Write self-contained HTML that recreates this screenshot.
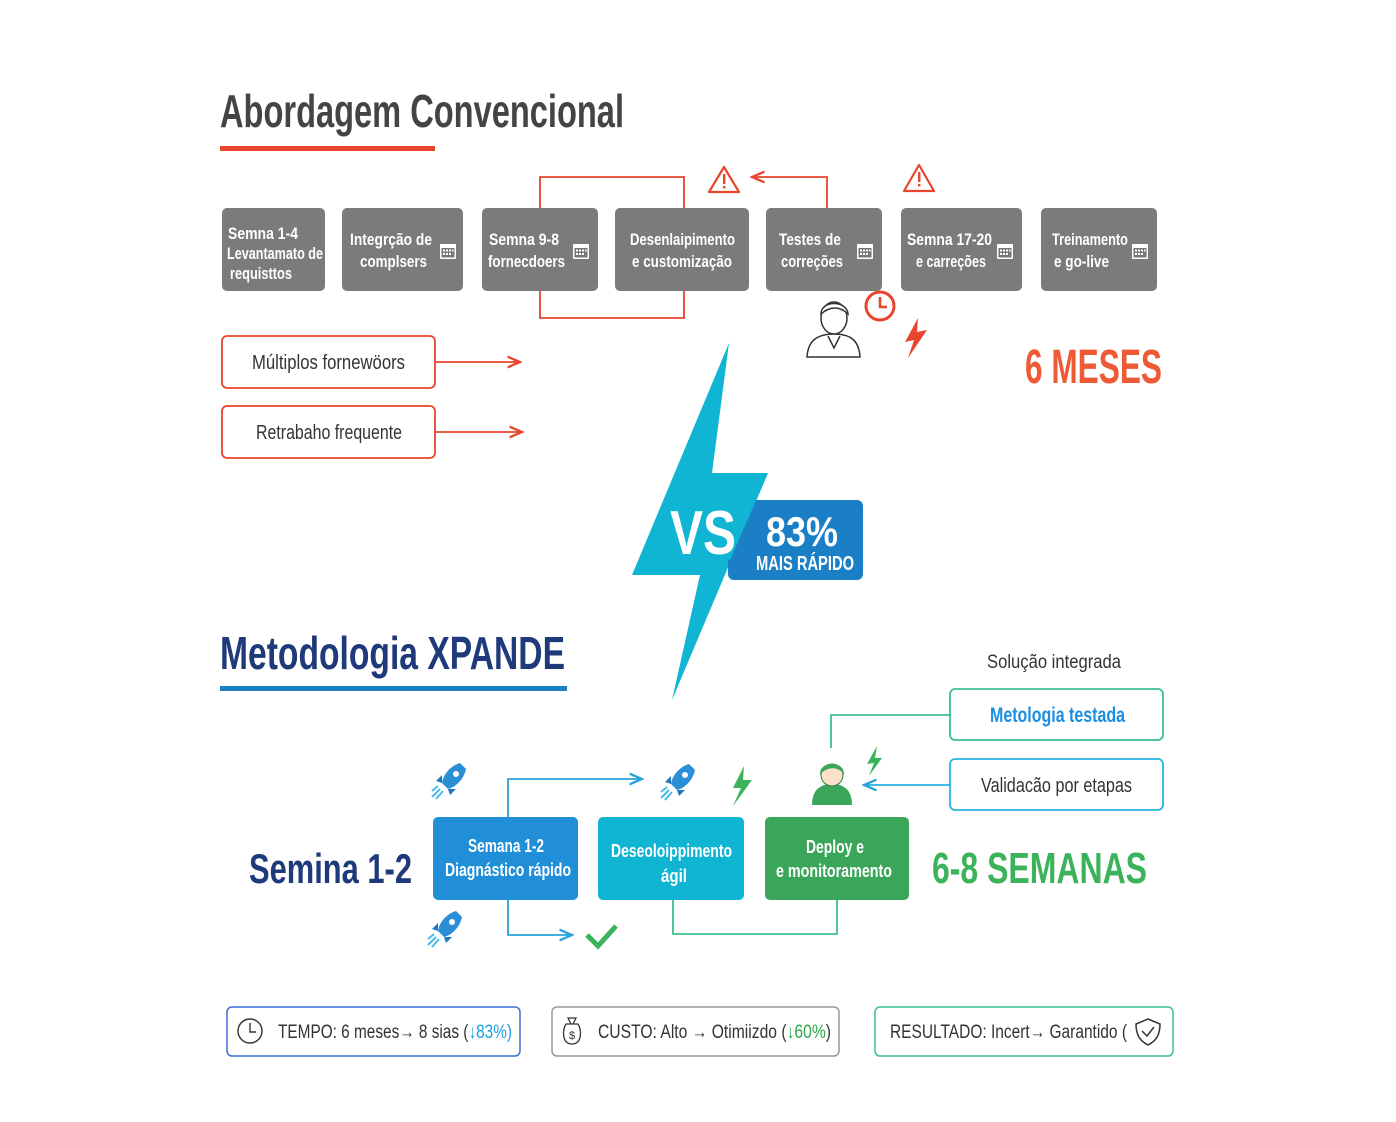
<!DOCTYPE html>
<html><head><meta charset="utf-8"><style>
html,body{margin:0;padding:0;background:#fff;}
svg{display:block;}
text{font-family:"Liberation Sans Narrow","Liberation Sans",sans-serif;}
</style></head><body>
<svg width="1396" height="1122" viewBox="0 0 1396 1122" xmlns="http://www.w3.org/2000/svg">
<defs>
<marker id="ar" markerWidth="8" markerHeight="8" refX="7" refY="4" orient="auto"><path d="M0,1 L7,4 L0,7" fill="none" stroke="#e8452c" stroke-width="1.3"/></marker>
<marker id="ab" markerWidth="8" markerHeight="8" refX="7" refY="4" orient="auto"><path d="M0,1 L7,4 L0,7" fill="none" stroke="#2aa3d8" stroke-width="1.3"/></marker>
<g id="cal"><rect x="0" y="0" width="16" height="15" fill="#fff" rx="1"/><rect x="1.5" y="4" width="13" height="9.5" fill="#777"/><g fill="#fff"><rect x="3" y="5.5" width="2" height="2"/><rect x="6" y="5.5" width="2" height="2"/><rect x="9" y="5.5" width="2" height="2"/><rect x="12" y="5.5" width="1.5" height="2"/><rect x="3" y="9" width="2" height="2"/><rect x="6" y="9" width="2" height="2"/><rect x="9" y="9" width="2" height="2"/></g></g>
<g id="rocket"><path d="M22,0 C12,3 5,12 4,20 L10,26 C18,24 26,16 28,6 Z" fill="#2a8fd6"/><circle cx="18" cy="11" r="3" fill="#fff"/><path d="M4,20 L-2,18 L4,12 Z M10,26 L12,32 L18,26Z" fill="#1f78c0"/><path d="M2,26 L-6,34 M5,28 L-2,36 M0,23 L-6,28" stroke="#4ab8e8" stroke-width="2"/></g>
</defs>

<text x="220" y="127" font-size="46" font-weight="bold" fill="#444" textLength="404" lengthAdjust="spacingAndGlyphs">Abordagem Convencional</text>
<rect x="220" y="146" width="215" height="5" fill="#e8452c"/>

<g fill="none" stroke="#e8452c" stroke-width="1.8">
<path d="M540,208 V177 H684 V208"/>
<path d="M540,291 V318 H684 V291"/>
<path d="M827,208 V177 H752" marker-end="url(#ar)"/>
<path d="M435,362 H520" marker-end="url(#ar)"/>
<path d="M435,432 H522" marker-end="url(#ar)"/>
</g>
<g fill="none" stroke="#e8452c" stroke-width="2.2" stroke-linejoin="round">
<path d="M724,167 L739,192 L709,192 Z"/><path d="M919,165 L934,191 L904,191 Z"/>
</g>
<g fill="#e8452c"><rect x="723" y="174" width="2.4" height="10"/><rect x="723" y="186" width="2.4" height="2.4"/><rect x="918" y="172" width="2.4" height="10"/><rect x="918" y="184" width="2.4" height="2.4"/></g>

<g fill="#7b7b7b">
<rect x="222" y="208" width="103" height="83" rx="5"/>
<rect x="342" y="208" width="121" height="83" rx="5"/>
<rect x="482" y="208" width="116" height="83" rx="5"/>
<rect x="615" y="208" width="134" height="83" rx="5"/>
<rect x="766" y="208" width="116" height="83" rx="5"/>
<rect x="901" y="208" width="121" height="83" rx="5"/>
<rect x="1041" y="208" width="116" height="83" rx="5"/>
</g>
<g fill="#fff" font-size="17" font-weight="bold" lengthAdjust="spacingAndGlyphs">
<text x="228" y="239" textLength="70" lengthAdjust="spacingAndGlyphs">Semna 1-4</text><text x="227" y="259" textLength="96" lengthAdjust="spacingAndGlyphs">Levantamato de</text><text x="230" y="279" textLength="62" lengthAdjust="spacingAndGlyphs">requisttos</text>
<text x="350" y="245" textLength="82" lengthAdjust="spacingAndGlyphs">Integrção de</text><text x="360" y="267" textLength="67" lengthAdjust="spacingAndGlyphs">complsers</text>
<text x="489" y="245" textLength="70" lengthAdjust="spacingAndGlyphs">Semna 9-8</text><text x="488" y="267" textLength="77" lengthAdjust="spacingAndGlyphs">fornecdoers</text>
<text x="630" y="245" textLength="105" lengthAdjust="spacingAndGlyphs">Desenlaipimento</text><text x="632" y="267" textLength="100" lengthAdjust="spacingAndGlyphs">e customização</text>
<text x="779" y="245" textLength="62" lengthAdjust="spacingAndGlyphs">Testes de</text><text x="781" y="267" textLength="62" lengthAdjust="spacingAndGlyphs">correções</text>
<text x="907" y="245" textLength="85" lengthAdjust="spacingAndGlyphs">Semna 17-20</text><text x="916" y="267" textLength="70" lengthAdjust="spacingAndGlyphs">e carreções</text>
<text x="1052" y="245" textLength="76" lengthAdjust="spacingAndGlyphs">Treinamento</text><text x="1054" y="267" textLength="55" lengthAdjust="spacingAndGlyphs">e go-live</text>
</g>
<use href="#cal" x="440" y="244"/><use href="#cal" x="573" y="244"/><use href="#cal" x="857" y="244"/><use href="#cal" x="997" y="244"/><use href="#cal" x="1132" y="244"/>

<g stroke="#333" stroke-width="1.5" fill="#fff">
<path d="M807,357 C808,340 818,334 834,334 C850,334 859,340 860,357 Z"/>
<ellipse cx="834" cy="318" rx="13" ry="16"/>
<path d="M821,314 C821,300 847,300 848,314 C840,306 830,306 821,314Z" fill="#fff"/>
<path d="M828,336 L834,348 L840,336"/>
</g>
<circle cx="880" cy="306" r="14" fill="#fff" stroke="#e8452c" stroke-width="3"/>
<path d="M880,297 V307 H887" fill="none" stroke="#e8452c" stroke-width="2.5"/>
<path d="M918,318 L905,342 L914,340 L908,358 L927,330 L917,332 Z" fill="#e8452c"/>

<text x="1025" y="383" font-size="48" font-weight="bold" fill="#ef5a36" textLength="137" lengthAdjust="spacingAndGlyphs">6 MESES</text>

<rect x="222" y="336" width="213" height="52" rx="5" fill="#fff" stroke="#e8452c" stroke-width="1.8"/>
<rect x="222" y="406" width="213" height="52" rx="5" fill="#fff" stroke="#e8452c" stroke-width="1.8"/>
<text x="252" y="369" font-size="20" fill="#333" textLength="153" lengthAdjust="spacingAndGlyphs">Múltiplos fornewöors</text>
<text x="256" y="439" font-size="20" fill="#333" textLength="146" lengthAdjust="spacingAndGlyphs">Retrabaho frequente</text>

<path d="M729,343 L712,473 L768,473 L672,700 L700,575 L632,575 Z" fill="#0fb5d3"/>
<rect x="728" y="500" width="135" height="80" rx="6" fill="#1a7fc4"/>
<path d="M712,473 L768,473 L730,560 L690,575 L632,575 Z" fill="#0fb5d3"/>
<text x="670" y="554" font-size="62" font-weight="bold" fill="#fff" textLength="66" lengthAdjust="spacingAndGlyphs">VS</text>
<text x="766" y="546" font-size="42" font-weight="bold" fill="#fff" textLength="72" lengthAdjust="spacingAndGlyphs">83%</text>
<text x="756" y="570" font-size="20" font-weight="bold" fill="#fff" textLength="98" lengthAdjust="spacingAndGlyphs">MAIS RÁPIDO</text>

<text x="220" y="669" font-size="46" font-weight="bold" fill="#1f3a7a" textLength="345" lengthAdjust="spacingAndGlyphs">Metodologia XPANDE</text>
<rect x="220" y="686" width="347" height="5" fill="#1a7fc4"/>

<text x="987" y="668" font-size="19" fill="#333" textLength="134" lengthAdjust="spacingAndGlyphs">Solução integrada</text>
<rect x="950" y="689" width="213" height="51" rx="5" fill="#fff" stroke="#3cc08a" stroke-width="1.8"/>
<text x="990" y="722" font-size="21" font-weight="bold" fill="#1a8ee0" textLength="135" lengthAdjust="spacingAndGlyphs">Metologia testada</text>
<rect x="950" y="759" width="213" height="51" rx="5" fill="#fff" stroke="#2ab3e0" stroke-width="1.8"/>
<text x="981" y="792" font-size="20" fill="#333" textLength="151" lengthAdjust="spacingAndGlyphs">Validacão por etapas</text>

<g fill="none" stroke-width="1.8">
<path d="M950,715 H831 V748" stroke="#3cc08a"/>
<path d="M950,785 H864" stroke="#2ab3e0" marker-end="url(#ab)"/>
<path d="M508,818 V779 H642" stroke="#2aa3d8" marker-end="url(#ab)"/>
<path d="M508,900 V935 H572" stroke="#2aa3d8" marker-end="url(#ab)"/>
<path d="M673,900 V934 H837 V900" stroke="#3cc08a"/>
</g>

<use href="#rocket" x="438" y="763"/>
<use href="#rocket" x="667" y="764"/>
<use href="#rocket" x="434" y="911"/>
<path d="M744,766 L733,788 L741,788 L733,806 L752,780 L743,780 Z" fill="#3cb35a"/>
<path d="M877,746 L867,764 L874,763 L869,776 L882,758 L875,758 Z" fill="#3cb35a"/>
<path d="M587,935 L598,946 L616,926" fill="none" stroke="#3cb35a" stroke-width="5"/>

<path d="M812,805 C812,790 820,784 832,784 C844,784 852,790 852,805 Z" fill="#3aa65a"/>
<circle cx="832" cy="775" r="11" fill="#fce0c8" stroke="#2e7d40" stroke-width="1"/>
<path d="M820,775 C819,760 845,760 844,775 C840,766 826,766 820,775Z" fill="#3aa65a"/>

<rect x="433" y="817" width="145" height="83" rx="5" fill="#208fd8"/>
<rect x="598" y="817" width="146" height="83" rx="5" fill="#0fb5d3"/>
<rect x="765" y="817" width="144" height="83" rx="5" fill="#3aa65a"/>
<g fill="#fff" font-size="18" font-weight="bold">
<text x="468" y="852" textLength="76" lengthAdjust="spacingAndGlyphs">Semana 1-2</text><text x="445" y="876" textLength="126" lengthAdjust="spacingAndGlyphs">Diagnástico rápido</text>
<text x="611" y="857" textLength="121" lengthAdjust="spacingAndGlyphs">Deseoloippimento</text><text x="661" y="882" textLength="26" lengthAdjust="spacingAndGlyphs">ágil</text>
<text x="806" y="853" textLength="58" lengthAdjust="spacingAndGlyphs">Deploy e</text><text x="776" y="877" textLength="116" lengthAdjust="spacingAndGlyphs">e monitoramento</text>
</g>
<text x="249" y="883" font-size="42" font-weight="bold" fill="#1f3a7a" textLength="163" lengthAdjust="spacingAndGlyphs">Semina 1-2</text>
<text x="932" y="883" font-size="44" font-weight="bold" fill="#3cb35a" textLength="215" lengthAdjust="spacingAndGlyphs">6-8 SEMANAS</text>

<rect x="227" y="1007" width="293" height="49" rx="5" fill="#fff" stroke="#3a6fd8" stroke-width="1.5"/>
<rect x="552" y="1007" width="287" height="49" rx="5" fill="#fff" stroke="#999" stroke-width="1.5"/>
<rect x="875" y="1007" width="298" height="49" rx="5" fill="#fff" stroke="#3cc08a" stroke-width="1.5"/>
<circle cx="250" cy="1031" r="12" fill="none" stroke="#333" stroke-width="1.4"/>
<path d="M250,1023 V1032 H256" fill="none" stroke="#333" stroke-width="1.4"/>
<text x="278" y="1038" font-size="19" fill="#333" textLength="234" lengthAdjust="spacingAndGlyphs">TEMPO: 6 meses→ 8 sias (<tspan fill="#1a9ee0">↓83%)</tspan></text>
<path d="M566,1024 C562,1030 562,1044 572,1044 C582,1044 582,1030 578,1024 Z M568,1018 L576,1018 L573,1024 L571,1024Z" fill="none" stroke="#333" stroke-width="1.3"/>
<text x="572" y="1039" font-size="11" fill="#333" text-anchor="middle">$</text>
<text x="598" y="1038" font-size="19" fill="#333" textLength="233" lengthAdjust="spacingAndGlyphs">CUSTO: Alto → Otimiizdo (<tspan fill="#2ea84a">↓60%</tspan>)</text>
<text x="890" y="1038" font-size="19" fill="#333" textLength="237" lengthAdjust="spacingAndGlyphs">RESULTADO: Incert→ Garantido (</text>
<path d="M1148,1019 L1160,1024 C1160,1035 1156,1041 1148,1045 C1140,1041 1136,1035 1136,1024 Z" fill="none" stroke="#333" stroke-width="1.5"/>
<path d="M1142,1031 L1147,1036 L1154,1027" fill="none" stroke="#333" stroke-width="1.5"/>
</svg>
</body></html>
